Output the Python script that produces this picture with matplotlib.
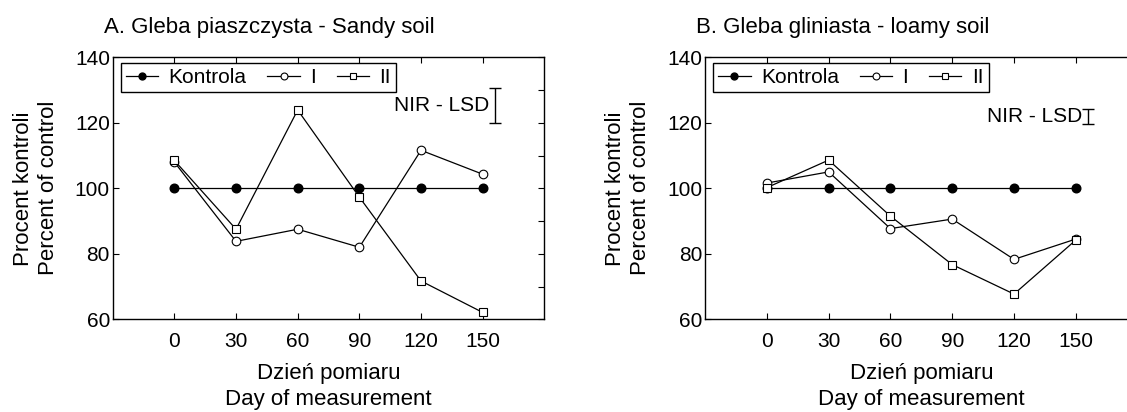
import numpy as np
import matplotlib
matplotlib.use("Agg")
import matplotlib.pyplot as plt
from matplotlib.ticker import MultipleLocator

plt.rcParams['font.family'] = ['Liberation Sans', 'DejaVu Sans']
plt.rcParams['font.size'] = 15

# measurement days
days = [0, 30, 60, 90, 120, 150]

# A. sandy soil
kontrola_a = [100, 100, 100, 100, 100, 100]
i_a = [108.0, 83.8, 87.5, 82.0, 111.6, 104.3]
ii_a = [108.5, 87.5, 123.9, 97.3, 71.7, 62.1]
lsd_a = (120.0, 130.5)

# B. loamy soil
kontrola_b = [100, 100, 100, 100, 100, 100]
i_b = [101.6, 105.0, 87.7, 90.6, 78.3, 84.5]
ii_b = [100.2, 108.6, 91.5, 76.7, 67.7, 84.2]
lsd_b = (119.6, 124.1)

lsd_x = 156
titles = ["A. Gleba piaszczysta - Sandy soil", "B. Gleba gliniasta - loamy soil"]
text_y = [125.4, 121.9]

fig = plt.figure(figsize=(11.27, 4.12), dpi=100)
ax_a = fig.add_axes([0.1, 0.225, 0.383, 0.636])
ax_b = fig.add_axes([0.6256, 0.225, 0.3838, 0.636])

panels = [(ax_a, kontrola_a, i_a, ii_a, lsd_a), (ax_b, kontrola_b, i_b, ii_b, lsd_b)]

for idx, (ax, k, s1, s2, lsd) in enumerate(panels):
    lw = 0.9
    ax.plot(days, k, '-o', color='black', lw=lw, ms=6.2, mfc='black', mec='black', label='Kontrola')
    ax.plot(days, s1, '-o', color='black', lw=lw, ms=6.2, mfc='white', mec='black', mew=0.8, label='I')
    ax.plot(days, s2, '-s', color='black', lw=lw, ms=6.2, mfc='white', mec='black', mew=0.8, label='II')

    # LSD bar
    mid = (lsd[0] + lsd[1]) / 2
    half = (lsd[1] - lsd[0]) / 2
    ax.errorbar([lsd_x], [mid], yerr=[[half], [half]], fmt='none', ecolor='black',
                elinewidth=1.0, capsize=4.3, capthick=1.0)
    ax.text(153, text_y[idx], "NIR - LSD", ha='right', va='center', fontsize=15)

    ax.set_xlim(-30, 180)
    ax.set_ylim(60, 140)
    ax.set_xticks(days)
    ax.set_yticks([60, 80, 100, 120, 140])
    ax.yaxis.set_minor_locator(MultipleLocator(10))
    ax.tick_params(which='major', direction='in', length=4, width=0.8,
                   top=True, right=True, labelsize=15)
    ax.tick_params(axis='x', pad=9)
    ax.tick_params(axis='y', pad=2)
    ax.tick_params(which='minor', direction='in', length=4, width=0.8,
                   left=False, right=True)
    for sp in ax.spines.values():
        sp.set_linewidth(1.0)

    ax.set_ylabel("Procent kontroli\nPercent of control", fontsize=16, linespacing=1.25)
    ax.yaxis.set_label_coords(-0.124, 0.5)
    ax.set_xlabel("Dzień pomiaru\nDay of measurement", fontsize=16, linespacing=1.35)
    ax.xaxis.set_label_coords(0.5, -0.165)

    ax.text(-0.02, 1.093, titles[idx], transform=ax.transAxes, ha='left',
            va='baseline', fontsize=16)

    leg = ax.legend(loc='upper left', bbox_to_anchor=(0.0185, 0.979), borderaxespad=0,
                    ncol=3, fancybox=False, framealpha=1, edgecolor='black',
                    handlelength=1.55, handletextpad=0.5, columnspacing=1.0,
                    borderpad=0.25, fontsize=15, markerscale=0.8)
    leg.get_frame().set_linewidth(1.0)

plt.savefig("out.png", dpi=100)
